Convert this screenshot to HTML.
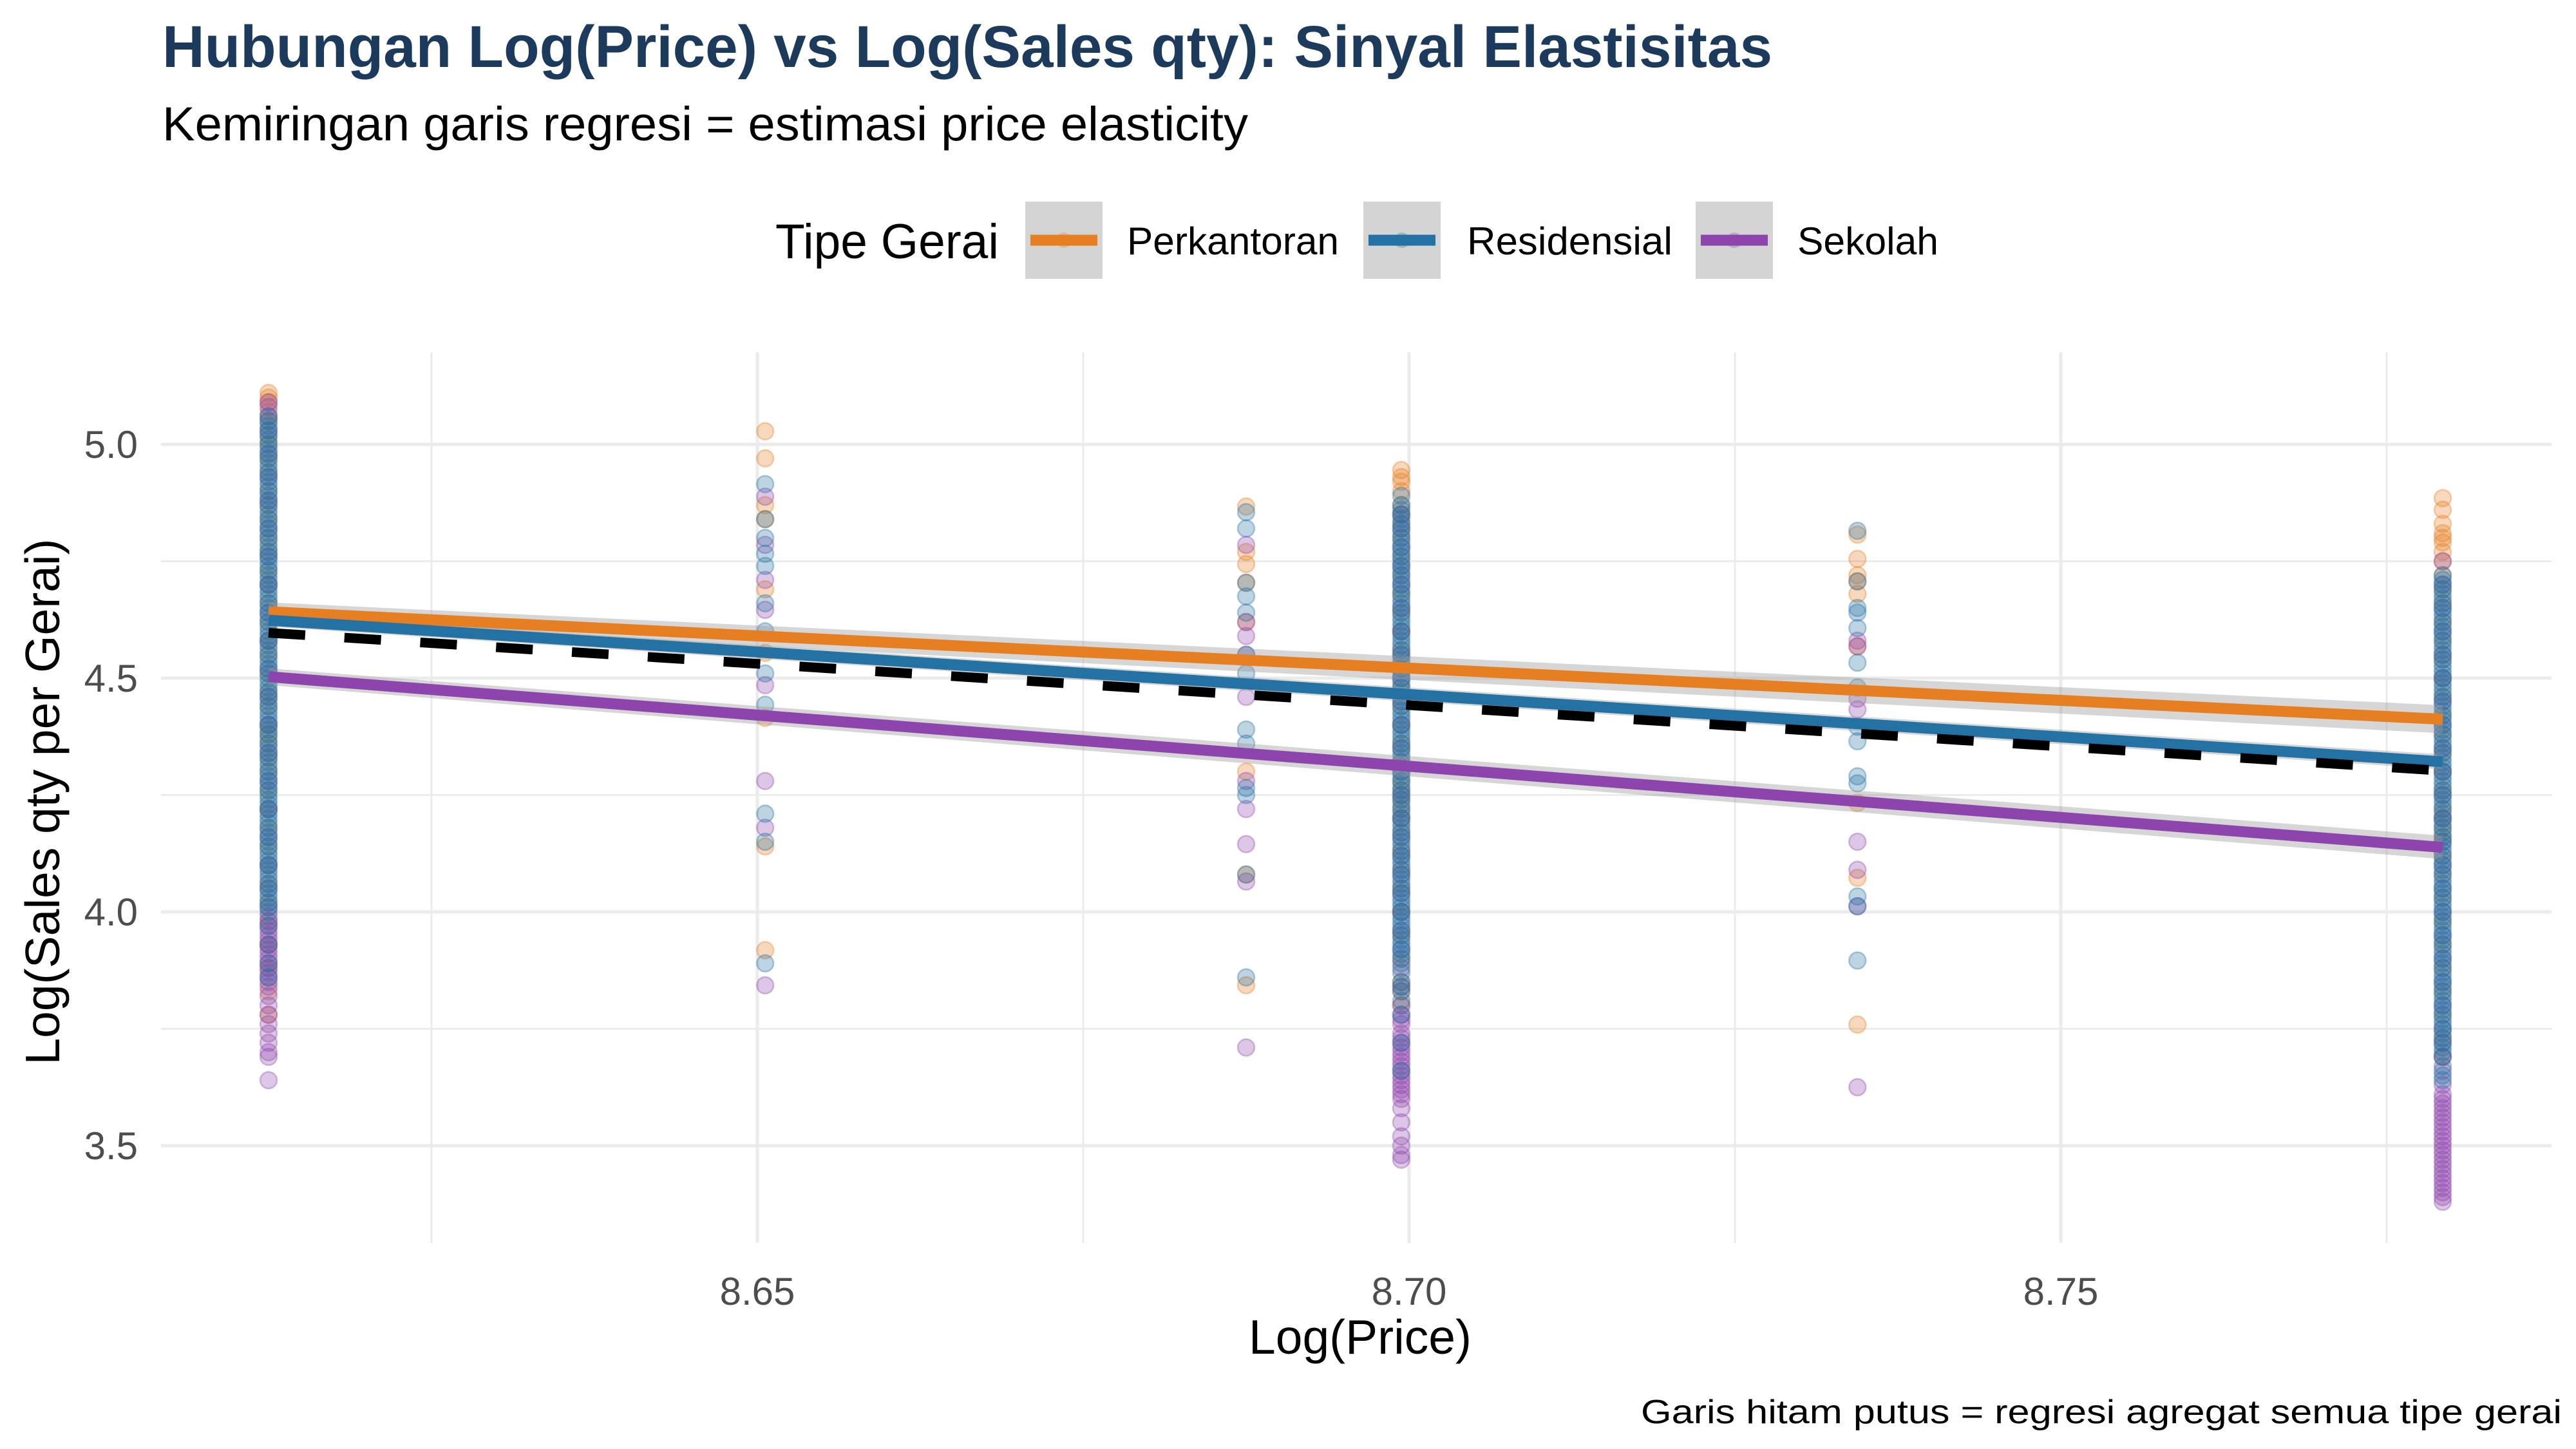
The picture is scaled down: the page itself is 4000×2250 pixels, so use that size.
<!DOCTYPE html>
<html><head><meta charset="utf-8"><style>
html,body{margin:0;padding:0;background:#fff;}
svg{display:block;font-family:"Liberation Sans",Arial,sans-serif;}
</style></head><body>
<svg id="chart" width="4000" height="2250" viewBox="0 0 4000 2250" xmlns="http://www.w3.org/2000/svg">
<rect width="4000" height="2250" fill="#fff"/>
<text x="252" y="104" font-size="92" font-weight="bold" fill="#1b3a5c" textLength="2500" lengthAdjust="spacingAndGlyphs">Hubungan Log(Price) vs Log(Sales qty): Sinyal Elastisitas</text>
<text x="252" y="218" font-size="74" fill="#000" textLength="1686" lengthAdjust="spacingAndGlyphs">Kemiringan garis regresi = estimasi price elasticity</text>
<g id="legend"></g>
<g id="grid"></g>
<g id="points"></g>
<g id="fits"></g>
<g id="axes"></g>
<text x="2112" y="2102" font-size="75" text-anchor="middle" fill="#000">Log(Price)</text>
<text transform="translate(92,1245) rotate(-90)" font-size="75" text-anchor="middle" fill="#000">Log(Sales qty per Gerai)</text>
<text x="2548" y="2210" font-size="52" fill="#000" textLength="1430" lengthAdjust="spacingAndGlyphs">Garis hitam putus = regresi agregat semua tipe gerai</text>
</svg>
<script>
const NS = "http://www.w3.org/2000/svg";
// ---- data ----
const groups = ["Perkantoran", "Residensial", "Sekolah"];
const groupColors = ["#e67e22", "#2471a3", "#8e44ad"];
const priceLevels = [8.6125, 8.6506, 8.6875, 8.6994, 8.7344, 8.7793];
const xTicks = [8.65, 8.70, 8.75];
const xTickLabels = ["8.65", "8.70", "8.75"];
const yTicks = [3.5, 4.0, 4.5, 5.0];
const yTickLabels = ["3.5", "4.0", "4.5", "5.0"];
// points per group per price level
const ptsOrange = [
 [5.11,5.10,5.09,5.07,5.05,5.02,5.00,4.97,4.94,4.90,4.87,4.84,4.80,4.77,4.73,4.70,4.66,4.62,4.58,4.55,4.51,4.47,4.44,4.40,4.38,4.36,4.33,4.30,4.26,4.22,4.18,4.14,4.10,4.06,4.02,3.98,3.93,3.88,3.83,3.78],
 [5.028,4.97,4.87,4.84,4.69,4.554,4.415,4.14,3.918],
 [4.867,4.77,4.744,4.704,4.62,4.30,4.08,3.843],
 [4.945,4.93,4.92,4.90,4.87,4.85,4.83,4.80,4.76,4.72,4.68,4.64,4.60,4.56,4.52,4.48,4.44,4.40,4.36,4.32,4.28,4.26,4.24,4.22,4.20,4.17,4.13,4.09,4.05,4.00,3.95,3.90,3.85,3.83,3.80],
 [4.807,4.755,4.72,4.707,4.68,4.568,4.233,4.073,3.759],
 [4.885,4.86,4.83,4.81,4.80,4.79,4.77,4.75,4.72,4.69,4.66,4.62,4.58,4.54,4.50,4.46,4.42,4.38,4.34,4.30,4.26,4.22,4.20,4.18,4.16,4.12,4.08,4.03,3.98,3.93,3.88,3.83,3.78,3.73,3.69]
];
const ptsPurple = [
 [5.09,5.08,5.06,5.03,4.98,4.93,4.88,4.82,4.76,4.70,4.64,4.58,4.52,4.46,4.40,4.34,4.28,4.22,4.16,4.10,4.05,4.01,3.99,3.98,3.97,3.96,3.95,3.94,3.93,3.92,3.91,3.90,3.89,3.88,3.87,3.86,3.85,3.84,3.82,3.80,3.78,3.76,3.74,3.72,3.70,3.69,3.64],
 [4.888,4.785,4.71,4.646,4.485,4.28,4.18,3.843],
 [4.785,4.62,4.59,4.55,4.46,4.28,4.22,4.145,4.065,3.71],
 [4.85,4.82,4.78,4.74,4.70,4.65,4.60,4.55,4.50,4.45,4.40,4.35,4.30,4.25,4.20,4.16,4.12,4.08,4.04,4.00,3.96,3.92,3.88,3.84,3.80,3.78,3.77,3.76,3.74,3.73,3.72,3.71,3.70,3.69,3.68,3.67,3.66,3.65,3.64,3.63,3.62,3.61,3.60,3.58,3.55,3.52,3.50,3.48,3.47],
 [4.58,4.568,4.456,4.433,4.15,4.09,4.012,3.625],
 [4.75,4.70,4.65,4.60,4.55,4.50,4.45,4.40,4.35,4.30,4.25,4.20,4.15,4.10,4.05,4.00,3.95,3.90,3.85,3.80,3.75,3.72,3.69,3.66,3.63,3.61,3.60,3.59,3.58,3.57,3.56,3.55,3.54,3.53,3.52,3.51,3.50,3.49,3.48,3.47,3.46,3.45,3.44,3.43,3.42,3.41,3.40,3.39,3.38]
];
const ptsBlue = [
 [5.06,5.04,5.02,5.00,4.98,4.96,4.94,4.92,4.90,4.88,4.86,4.84,4.82,4.80,4.78,4.76,4.74,4.72,4.70,4.68,4.66,4.64,4.62,4.60,4.58,4.56,4.54,4.52,4.50,4.48,4.46,4.44,4.42,4.40,4.38,4.36,4.34,4.32,4.30,4.28,4.26,4.24,4.22,4.20,4.18,4.16,4.14,4.12,4.10,4.08,4.06,4.04,4.02,4.00,3.97,3.93,3.89,3.86],
 [4.915,4.84,4.80,4.766,4.74,4.66,4.60,4.51,4.443,4.21,4.15,3.89],
 [4.855,4.82,4.704,4.675,4.64,4.55,4.51,4.39,4.36,4.265,4.25,4.08,3.86],
 [4.89,4.87,4.85,4.83,4.80,4.78,4.76,4.74,4.72,4.70,4.68,4.66,4.64,4.62,4.60,4.58,4.56,4.54,4.52,4.50,4.48,4.46,4.44,4.42,4.40,4.38,4.36,4.34,4.32,4.30,4.28,4.26,4.24,4.22,4.20,4.18,4.16,4.14,4.12,4.10,4.08,4.06,4.04,4.02,4.00,3.98,3.96,3.94,3.92,3.90,3.87,3.84,3.81,3.78,3.72,3.66],
 [4.815,4.707,4.65,4.64,4.607,4.533,4.48,4.396,4.365,4.29,4.275,4.033,4.012,3.896],
 [4.72,4.70,4.68,4.66,4.64,4.62,4.60,4.58,4.56,4.54,4.52,4.50,4.48,4.46,4.44,4.42,4.40,4.38,4.36,4.34,4.32,4.30,4.28,4.26,4.24,4.22,4.20,4.18,4.16,4.14,4.12,4.10,4.08,4.06,4.04,4.02,4.00,3.98,3.96,3.94,3.92,3.90,3.88,3.86,3.84,3.82,3.80,3.78,3.76,3.74,3.72,3.70,3.67,3.64]
];
// additional Residensial observations in the dense price levels
const ptsBlueExtra = [
 [5.05,5.03,5.01,4.99,4.97,4.95,4.93,4.91,4.89,4.87,4.85,4.83,4.81,4.79,4.77,4.75,4.73,4.71,4.69,4.67,4.65,4.63,4.61,4.59,4.57,4.55,4.53,4.51,4.49,4.47,4.45,4.43,4.41,4.39,4.37,4.35,4.33,4.31,4.29,4.27,4.25,4.23,4.21,4.19,4.17,4.15,4.13,4.11,4.09,4.07,4.05,4.03,4.01],
 [], [],
 [4.86,4.84,4.82,4.81,4.79,4.77,4.75,4.73,4.71,4.69,4.67,4.65,4.63,4.61,4.59,4.57,4.55,4.53,4.51,4.49,4.47,4.45,4.43,4.41,4.39,4.37,4.35,4.33,4.31,4.29,4.27,4.25,4.23,4.21,4.19,4.17,4.15,4.13,4.11,4.09,4.07,4.05,4.03,4.01,3.99,3.97,3.95,3.93,3.91,3.89,3.85,3.83],
 [],
 [4.71,4.69,4.67,4.65,4.63,4.61,4.59,4.57,4.55,4.53,4.51,4.49,4.47,4.45,4.43,4.41,4.39,4.37,4.35,4.33,4.31,4.29,4.27,4.25,4.23,4.21,4.19,4.17,4.15,4.13,4.11,4.09,4.07,4.05,4.03,4.01,3.99,3.97,3.95,3.93,3.91,3.89,3.87,3.85,3.83,3.81,3.79,3.77,3.75,3.73,3.71,3.69,3.65]
];
// regression fits (value at min price, value at max price, CI half-width at ends)
const fitStart = [4.642, 4.624, 4.503];
const fitEnd = [4.412, 4.321, 4.138];
const ciStart = [0.02, 0.014, 0.018];
const ciEnd = [0.03, 0.016, 0.025];
const aggStart = 4.597;
const aggEnd = 4.302;
const fitRange = [8.6125, 8.7793];

// ---- scales ----
const PL = 250, PR = 3962, PT = 547, PB = 1930;
function xs(v){ return 1176 + (v - 8.65) * 20240; }
function ys(v){ return 690 + (5.0 - v) * 726; }

function mk(tag, attrs, parent){
  const e = document.createElementNS(NS, tag);
  for (const k in attrs) e.setAttribute(k, attrs[k]);
  parent.appendChild(e);
  return e;
}
const grid = document.getElementById('grid');
const axes = document.getElementById('axes');
[8.625, 8.675, 8.725, 8.775].forEach(v => {
  const l = mk('line', {x1: xs(v), x2: xs(v), y1: PT, y2: PB, stroke: '#ebebeb', 'stroke-width': 3}, grid);
  
  
});
[3.75, 4.25, 4.75].forEach(v => {
  const l = mk('line', {x1: PL, x2: PR, y1: ys(v), y2: ys(v), stroke: '#ebebeb', 'stroke-width': 3}, grid);
  
  
});
xTicks.forEach((v, i) => {
  const l = mk('line', {x1: xs(v), x2: xs(v), y1: PT, y2: PB, stroke: '#ebebeb', 'stroke-width': 5}, grid);
  
  
  const t = mk('text', {x: xs(v), y: 2026, 'font-size': 60, fill: '#4d4d4d', 'text-anchor': 'middle'}, axes);
  t.textContent = xTickLabels[i];
  
  
});
yTicks.forEach((v, i) => {
  const l = mk('line', {x1: PL, x2: PR, y1: ys(v), y2: ys(v), stroke: '#ebebeb', 'stroke-width': 5}, grid);
  
  
  const t = mk('text', {x: 214, y: ys(v) + 21, 'font-size': 60, fill: '#4d4d4d', 'text-anchor': 'end'}, axes);
  t.textContent = yTickLabels[i];
  
  
});

// points
const ptsG = document.getElementById('points');
const drawOrder = [[ptsOrange, 0], [ptsPurple, 2], [ptsBlue, 1], [ptsBlueExtra, 1]];
drawOrder.forEach(([arr, gi]) => {
  arr.forEach((col, li) => {
    col.forEach(v => {
      const c = mk('circle', {cx: xs(priceLevels[li]), cy: ys(v), r: 13, fill: groupColors[gi], 'fill-opacity': 0.3, stroke: groupColors[gi], 'stroke-opacity': 0.35, 'stroke-width': 2.5}, ptsG);
      
      
    });
  });
});

// fits
const fitsG = document.getElementById('fits');
const x0 = xs(fitRange[0]), x1 = xs(fitRange[1]);
groups.forEach((g, i) => {
  const pts = [[x0, ys(fitStart[i] + ciStart[i])], [x1, ys(fitEnd[i] + ciEnd[i])], [x1, ys(fitEnd[i] - ciEnd[i])], [x0, ys(fitStart[i] - ciStart[i])]];
  const rb = mk('polygon', {points: pts.map(p => p.join(',')).join(' '), fill: '#999999', 'fill-opacity': 0.4}, fitsG);
  
  
});
groups.forEach((g, i) => {
  const l = mk('line', {x1: x0, y1: ys(fitStart[i]), x2: x1, y2: ys(fitEnd[i]), stroke: groupColors[i], 'stroke-width': 17}, fitsG);
  
  
});
const agg = mk('line', {x1: x0, y1: ys(aggStart), x2: x1, y2: ys(aggEnd), stroke: '#000', 'stroke-width': 15, 'stroke-dasharray': '57 61'}, fitsG);



// legend
const lg = document.getElementById('legend');
const lt = mk('text', {x: 1204, y: 401, 'font-size': 76, fill: '#000', textLength: 347, lengthAdjust: 'spacingAndGlyphs'}, lg);
lt.textContent = 'Tipe Gerai';


const keyX = [1592, 2117, 2633];
const labX = [1750, 2278, 2791];
const labW = [329, 319, 219];
groups.forEach((g, i) => {
  const e = mk('g', {}, lg);
  
  
  mk('rect', {x: keyX[i], y: 313, width: 120, height: 120, fill: '#d4d4d4'}, e);
  mk('circle', {cx: keyX[i] + 60, cy: 373, r: 12, fill: groupColors[i], 'fill-opacity': 0.3}, e);
  mk('line', {x1: keyX[i] + 8, x2: keyX[i] + 112, y1: 373, y2: 373, stroke: groupColors[i], 'stroke-width': 17}, e);
  const t = mk('text', {x: labX[i], y: 395, 'font-size': 60, fill: '#000', textLength: labW[i], lengthAdjust: 'spacingAndGlyphs'}, e);
  t.textContent = g;
});
</script>
</body></html>
